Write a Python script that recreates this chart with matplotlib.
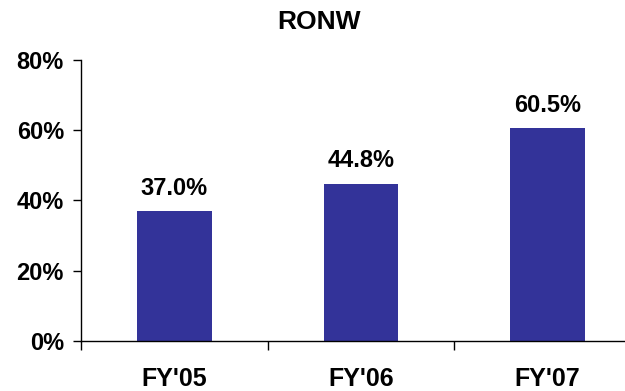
import matplotlib.pyplot as plt
import numpy as np

# RONW по годам
years = ["FY'05", "FY'06", "FY'07"]
ronw = [37.0, 44.8, 60.5]
y_ticks = [0, 20, 40, 60, 80]

plt.rcParams['font.family'] = ['Liberation Sans', 'DejaVu Sans']
plt.rcParams['font.weight'] = 'bold'

fig = plt.figure(figsize=(6.25, 3.91), dpi=100)
ax = fig.add_axes([0.1296, 0.127, 0.896, 0.7207])

x = np.arange(len(years))
bars = ax.bar(x, ronw, width=0.4, color='#333399')

# подписи значений над столбцами
for xi, v in zip(x, ronw):
    ax.annotate(f"{v:.1f}%", (xi, v), xytext=(0, 8), textcoords='offset points',
                ha='center', va='bottom', fontsize=17, fontweight='bold')

ax.set_xlim(-0.5, len(years) - 0.5)
ax.set_ylim(0, 80)
ax.set_yticks(y_ticks)
ax.set_yticklabels([f"{t}%" for t in y_ticks])

# деления между категориями, подписи по центру
ax.set_xticks(np.arange(len(years) + 1) - 0.5)
ax.set_xticklabels([])
ax.set_xticks(x, minor=True)
ax.set_xticklabels(years, minor=True)
ax.tick_params(axis='x', which='major', length=6.5, width=1, direction='out')
ax.tick_params(axis='x', which='minor', length=0, pad=18.5, labelsize=18)
ax.tick_params(axis='y', length=5.8, width=1, pad=6.5, labelsize=17)

for side in ['top', 'right']:
    ax.spines[side].set_visible(False)
ax.spines['left'].set_linewidth(1)
ax.spines['bottom'].set_linewidth(1)

fig.text(0.51, 0.944, "RONW", ha='center', va='center', fontsize=19, fontweight='bold')

fig.savefig('out.png', dpi=100)
